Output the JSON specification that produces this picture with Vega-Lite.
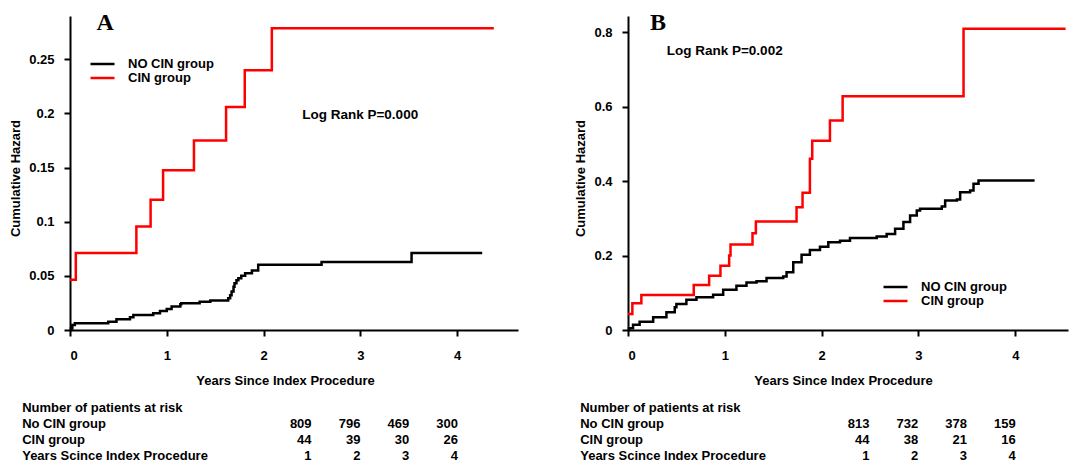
{
  "$schema": "https://vega.github.io/schema/vega-lite/v6.json",
  "background": "white",
  "padding": {"left": 9, "top": 11, "right": 0, "bottom": 0},
  "config": {
    "view": {"stroke": null},
    "axis": {
      "domainColor": "black", "domainWidth": 2, "tickColor": "black", "tickWidth": 2, "tickSize": 6,
      "grid": false, "labelFont": "Liberation Sans", "labelFontWeight": "bold", "labelFontSize": 13,
      "labelColor": "black", "titleFont": "Liberation Sans", "titleFontWeight": "bold", "titleFontSize": 13,
      "titleColor": "black"
    },
    "legend": {
      "orient": "none", "title": null, "symbolType": "stroke", "symbolSize": 576, "symbolStrokeWidth": 2.5,
      "clipHeight": 14, "rowPadding": 0, "labelOffset": 12, "labelFont": "Liberation Sans",
      "labelFontWeight": "bold", "labelFontSize": 13, "labelColor": "black", "padding": 0
    },
    "text": {"font": "Liberation Sans", "fontWeight": "bold", "fontSize": 13, "color": "black", "baseline": "middle"}
  },
  "datasets": {
    "curveA": [
      {"group": "NO CIN group", "t": 0, "h": 0},
      {"group": "NO CIN group", "t": 0.01, "h": 0.0015},
      {"group": "NO CIN group", "t": 0.024, "h": 0.0046},
      {"group": "NO CIN group", "t": 0.05, "h": 0.0062},
      {"group": "NO CIN group", "t": 0.395, "h": 0.0077},
      {"group": "NO CIN group", "t": 0.48, "h": 0.0099},
      {"group": "NO CIN group", "t": 0.62, "h": 0.0117},
      {"group": "NO CIN group", "t": 0.655, "h": 0.0139},
      {"group": "NO CIN group", "t": 0.86, "h": 0.0154},
      {"group": "NO CIN group", "t": 0.93, "h": 0.0176},
      {"group": "NO CIN group", "t": 1.0, "h": 0.0194},
      {"group": "NO CIN group", "t": 1.05, "h": 0.0216},
      {"group": "NO CIN group", "t": 1.14, "h": 0.0238},
      {"group": "NO CIN group", "t": 1.15, "h": 0.0247},
      {"group": "NO CIN group", "t": 1.34, "h": 0.0262},
      {"group": "NO CIN group", "t": 1.45, "h": 0.0272},
      {"group": "NO CIN group", "t": 1.635, "h": 0.0293},
      {"group": "NO CIN group", "t": 1.655, "h": 0.032},
      {"group": "NO CIN group", "t": 1.67, "h": 0.0355},
      {"group": "NO CIN group", "t": 1.69, "h": 0.04},
      {"group": "NO CIN group", "t": 1.7, "h": 0.0432},
      {"group": "NO CIN group", "t": 1.72, "h": 0.046},
      {"group": "NO CIN group", "t": 1.74, "h": 0.0478},
      {"group": "NO CIN group", "t": 1.77, "h": 0.05},
      {"group": "NO CIN group", "t": 1.81, "h": 0.0525},
      {"group": "NO CIN group", "t": 1.88, "h": 0.0549},
      {"group": "NO CIN group", "t": 1.945, "h": 0.0602},
      {"group": "NO CIN group", "t": 2.6, "h": 0.0627},
      {"group": "NO CIN group", "t": 3.53, "h": 0.071},
      {"group": "NO CIN group", "t": 4.26, "h": 0.071},
      {"group": "CIN group", "t": 0, "h": 0.0463},
      {"group": "CIN group", "t": 0.06, "h": 0.071},
      {"group": "CIN group", "t": 0.686, "h": 0.0957},
      {"group": "CIN group", "t": 0.833, "h": 0.1204},
      {"group": "CIN group", "t": 0.962, "h": 0.1475},
      {"group": "CIN group", "t": 1.281, "h": 0.175},
      {"group": "CIN group", "t": 1.613, "h": 0.206},
      {"group": "CIN group", "t": 1.806, "h": 0.24},
      {"group": "CIN group", "t": 2.086, "h": 0.2787},
      {"group": "CIN group", "t": 4.38, "h": 0.2787}
    ],
    "curveB": [
      {"group": "NO CIN group", "t": 0, "h": 0},
      {"group": "NO CIN group", "t": 0.01, "h": 0.005},
      {"group": "NO CIN group", "t": 0.052, "h": 0.014},
      {"group": "NO CIN group", "t": 0.12, "h": 0.022},
      {"group": "NO CIN group", "t": 0.26, "h": 0.034},
      {"group": "NO CIN group", "t": 0.397, "h": 0.0475},
      {"group": "NO CIN group", "t": 0.483, "h": 0.061},
      {"group": "NO CIN group", "t": 0.5, "h": 0.07},
      {"group": "NO CIN group", "t": 0.603, "h": 0.081},
      {"group": "NO CIN group", "t": 0.707, "h": 0.088},
      {"group": "NO CIN group", "t": 0.879, "h": 0.095},
      {"group": "NO CIN group", "t": 0.983, "h": 0.108},
      {"group": "NO CIN group", "t": 1.12, "h": 0.119},
      {"group": "NO CIN group", "t": 1.224, "h": 0.128},
      {"group": "NO CIN group", "t": 1.328, "h": 0.131},
      {"group": "NO CIN group", "t": 1.431, "h": 0.14},
      {"group": "NO CIN group", "t": 1.603, "h": 0.1435},
      {"group": "NO CIN group", "t": 1.638, "h": 0.155},
      {"group": "NO CIN group", "t": 1.707, "h": 0.182},
      {"group": "NO CIN group", "t": 1.793, "h": 0.202},
      {"group": "NO CIN group", "t": 1.879, "h": 0.215},
      {"group": "NO CIN group", "t": 1.983, "h": 0.224},
      {"group": "NO CIN group", "t": 2.069, "h": 0.236},
      {"group": "NO CIN group", "t": 2.19, "h": 0.24},
      {"group": "NO CIN group", "t": 2.293, "h": 0.2475},
      {"group": "NO CIN group", "t": 2.569, "h": 0.251},
      {"group": "NO CIN group", "t": 2.672, "h": 0.258},
      {"group": "NO CIN group", "t": 2.759, "h": 0.272},
      {"group": "NO CIN group", "t": 2.845, "h": 0.29},
      {"group": "NO CIN group", "t": 2.914, "h": 0.3076},
      {"group": "NO CIN group", "t": 2.983, "h": 0.321},
      {"group": "NO CIN group", "t": 3.017, "h": 0.326},
      {"group": "NO CIN group", "t": 3.241, "h": 0.332},
      {"group": "NO CIN group", "t": 3.276, "h": 0.348},
      {"group": "NO CIN group", "t": 3.397, "h": 0.351},
      {"group": "NO CIN group", "t": 3.431, "h": 0.37},
      {"group": "NO CIN group", "t": 3.534, "h": 0.375},
      {"group": "NO CIN group", "t": 3.569, "h": 0.393},
      {"group": "NO CIN group", "t": 3.621, "h": 0.402},
      {"group": "NO CIN group", "t": 4.2, "h": 0.402},
      {"group": "CIN group", "t": 0, "h": 0.043},
      {"group": "CIN group", "t": 0.045, "h": 0.0717},
      {"group": "CIN group", "t": 0.138, "h": 0.094},
      {"group": "CIN group", "t": 0.679, "h": 0.121},
      {"group": "CIN group", "t": 0.838, "h": 0.146},
      {"group": "CIN group", "t": 0.955, "h": 0.173},
      {"group": "CIN group", "t": 1.045, "h": 0.2},
      {"group": "CIN group", "t": 1.059, "h": 0.2296},
      {"group": "CIN group", "t": 1.286, "h": 0.26},
      {"group": "CIN group", "t": 1.321, "h": 0.2915},
      {"group": "CIN group", "t": 1.741, "h": 0.33},
      {"group": "CIN group", "t": 1.803, "h": 0.3686},
      {"group": "CIN group", "t": 1.879, "h": 0.46},
      {"group": "CIN group", "t": 1.903, "h": 0.509},
      {"group": "CIN group", "t": 2.086, "h": 0.563},
      {"group": "CIN group", "t": 2.217, "h": 0.628},
      {"group": "CIN group", "t": 3.466, "h": 0.81},
      {"group": "CIN group", "t": 4.52, "h": 0.81}
    ],
    "labelsA": [
      {"row": 1, "label": "Number of patients at risk"},
      {"row": 2, "label": "No CIN group"},
      {"row": 3, "label": "CIN group"},
      {"row": 4, "label": "Years Scince Index Procedure"}
    ],
    "cellsA": [
      {"row": 2, "year": 1, "v": "809"}, {"row": 2, "year": 2, "v": "796"}, {"row": 2, "year": 3, "v": "469"}, {"row": 2, "year": 4, "v": "300"},
      {"row": 3, "year": 1, "v": "44"}, {"row": 3, "year": 2, "v": "39"}, {"row": 3, "year": 3, "v": "30"}, {"row": 3, "year": 4, "v": "26"},
      {"row": 4, "year": 1, "v": "1"}, {"row": 4, "year": 2, "v": "2"}, {"row": 4, "year": 3, "v": "3"}, {"row": 4, "year": 4, "v": "4"}
    ],
    "cellsB": [
      {"row": 2, "year": 1, "v": "813"}, {"row": 2, "year": 2, "v": "732"}, {"row": 2, "year": 3, "v": "378"}, {"row": 2, "year": 4, "v": "159"},
      {"row": 3, "year": 1, "v": "44"}, {"row": 3, "year": 2, "v": "38"}, {"row": 3, "year": 3, "v": "21"}, {"row": 3, "year": 4, "v": "16"},
      {"row": 4, "year": 1, "v": "1"}, {"row": 4, "year": 2, "v": "2"}, {"row": 4, "year": 3, "v": "3"}, {"row": 4, "year": 4, "v": "4"}
    ]
  },
  "hconcat": [
    {
      "spacing": 15,
      "resolve": {"scale": {"color": "independent"}, "legend": {"color": "independent"}},
      "vconcat": [
        {
          "width": 448, "height": 314,
          "layer": [
            {
              "data": {"name": "curveA"},
              "mark": {"type": "line", "interpolate": "step-after", "strokeWidth": 2.5},
              "encoding": {
                "x": {"field": "t", "type": "quantitative", "scale": {"domain": [0, 4.63], "nice": false},
                      "axis": {"values": [0, 1, 2, 3, 4], "format": "d", "title": "Years Since Index Procedure", "labelPadding": 13, "titlePadding": 12, "titleX": 215}},
                "y": {"field": "h", "type": "quantitative", "scale": {"domain": [0, 0.29], "nice": false},
                      "axis": {"values": [0, 0.05, 0.1, 0.15, 0.2, 0.25], "format": "~g", "title": "Cumulative Hazard", "labelPadding": 10, "titlePadding": 6, "titleY": 162}},
                "color": {"field": "group", "type": "nominal",
                          "scale": {"domain": ["NO CIN group", "CIN group"], "range": ["black", "#f00"]},
                          "legend": {"legendX": 19, "legendY": 41}}
              }
            },
            {
              "data": {"values": [{"label": "A"}]},
              "mark": {"type": "text", "font": "Liberation Serif", "fontSize": 24, "align": "left", "baseline": "alphabetic"},
              "encoding": {"x": {"datum": 0.275}, "y": {"datum": 0.277}, "text": {"field": "label"}}
            },
            {
              "data": {"values": [{"label": "Log Rank P=0.000"}]},
              "mark": {"type": "text", "align": "left", "fontSize": 13.5},
              "encoding": {"x": {"datum": 2.4}, "y": {"datum": 0.199}, "text": {"field": "label"}}
            }
          ]
        },
        {
          "width": 449, "height": 48,
          "layer": [
            {
              "data": {"name": "labelsA"},
              "mark": {"type": "text", "align": "left"},
              "encoding": {
                "x": {"datum": -4.93, "type": "quantitative", "scale": {"domain": [-3.95, 5.25], "nice": false, "zero": false}, "axis": null},
                "y": {"field": "row", "type": "quantitative", "scale": {"domain": [1, 4], "reverse": true, "nice": false, "zero": false}, "axis": null},
                "text": {"field": "label"}
              }
            },
            {
              "data": {"name": "cellsA"},
              "mark": {"type": "text", "align": "right"},
              "encoding": {
                "x": {"field": "year", "type": "quantitative", "axis": null},
                "y": {"field": "row", "type": "quantitative", "axis": null},
                "text": {"field": "v"}
              }
            }
          ]
        }
      ]
    },
    {
      "spacing": 15,
      "resolve": {"scale": {"color": "independent"}, "legend": {"color": "independent"}},
      "vconcat": [
        {
          "width": 440, "height": 314,
          "layer": [
            {
              "data": {"name": "curveB"},
              "mark": {"type": "line", "interpolate": "step-after", "strokeWidth": 2.5},
              "encoding": {
                "x": {"field": "t", "type": "quantitative", "scale": {"domain": [0, 4.545], "nice": false},
                      "axis": {"values": [0, 1, 2, 3, 4], "format": "d", "title": "Years Since Index Procedure", "labelPadding": 13, "titlePadding": 12, "titleX": 215}},
                "y": {"field": "h", "type": "quantitative", "scale": {"domain": [0, 0.844], "nice": false},
                      "axis": {"values": [0, 0.2, 0.4, 0.6, 0.8], "format": "~g", "title": "Cumulative Hazard", "labelPadding": 10, "titlePadding": 6, "titleY": 162}},
                "color": {"field": "group", "type": "nominal",
                          "scale": {"domain": ["NO CIN group", "CIN group"], "range": ["black", "#f00"]},
                          "legend": {"legendX": 254, "legendY": 264}}
              }
            },
            {
              "data": {"values": [{"label": "B"}]},
              "mark": {"type": "text", "font": "Liberation Serif", "fontSize": 24, "align": "left", "baseline": "alphabetic"},
              "encoding": {"x": {"datum": 0.227}, "y": {"datum": 0.806}, "text": {"field": "label"}}
            },
            {
              "data": {"values": [{"label": "Log Rank P=0.002"}]},
              "mark": {"type": "text", "align": "left", "fontSize": 13.5},
              "encoding": {"x": {"datum": 0.4}, "y": {"datum": 0.75}, "text": {"field": "label"}}
            }
          ]
        },
        {
          "width": 440, "height": 48,
          "layer": [
            {
              "data": {"name": "labelsA"},
              "mark": {"type": "text", "align": "left"},
              "encoding": {
                "x": {"datum": -4.93, "type": "quantitative", "scale": {"domain": [-3.95, 5.07], "nice": false, "zero": false}, "axis": null},
                "y": {"field": "row", "type": "quantitative", "scale": {"domain": [1, 4], "reverse": true, "nice": false, "zero": false}, "axis": null},
                "text": {"field": "label"}
              }
            },
            {
              "data": {"name": "cellsB"},
              "mark": {"type": "text", "align": "right"},
              "encoding": {
                "x": {"field": "year", "type": "quantitative", "axis": null},
                "y": {"field": "row", "type": "quantitative", "axis": null},
                "text": {"field": "v"}
              }
            }
          ]
        }
      ]
    }
  ],
  "spacing": 55,
  "resolve": {"scale": {"color": "independent"}, "legend": {"color": "independent"}}
}
